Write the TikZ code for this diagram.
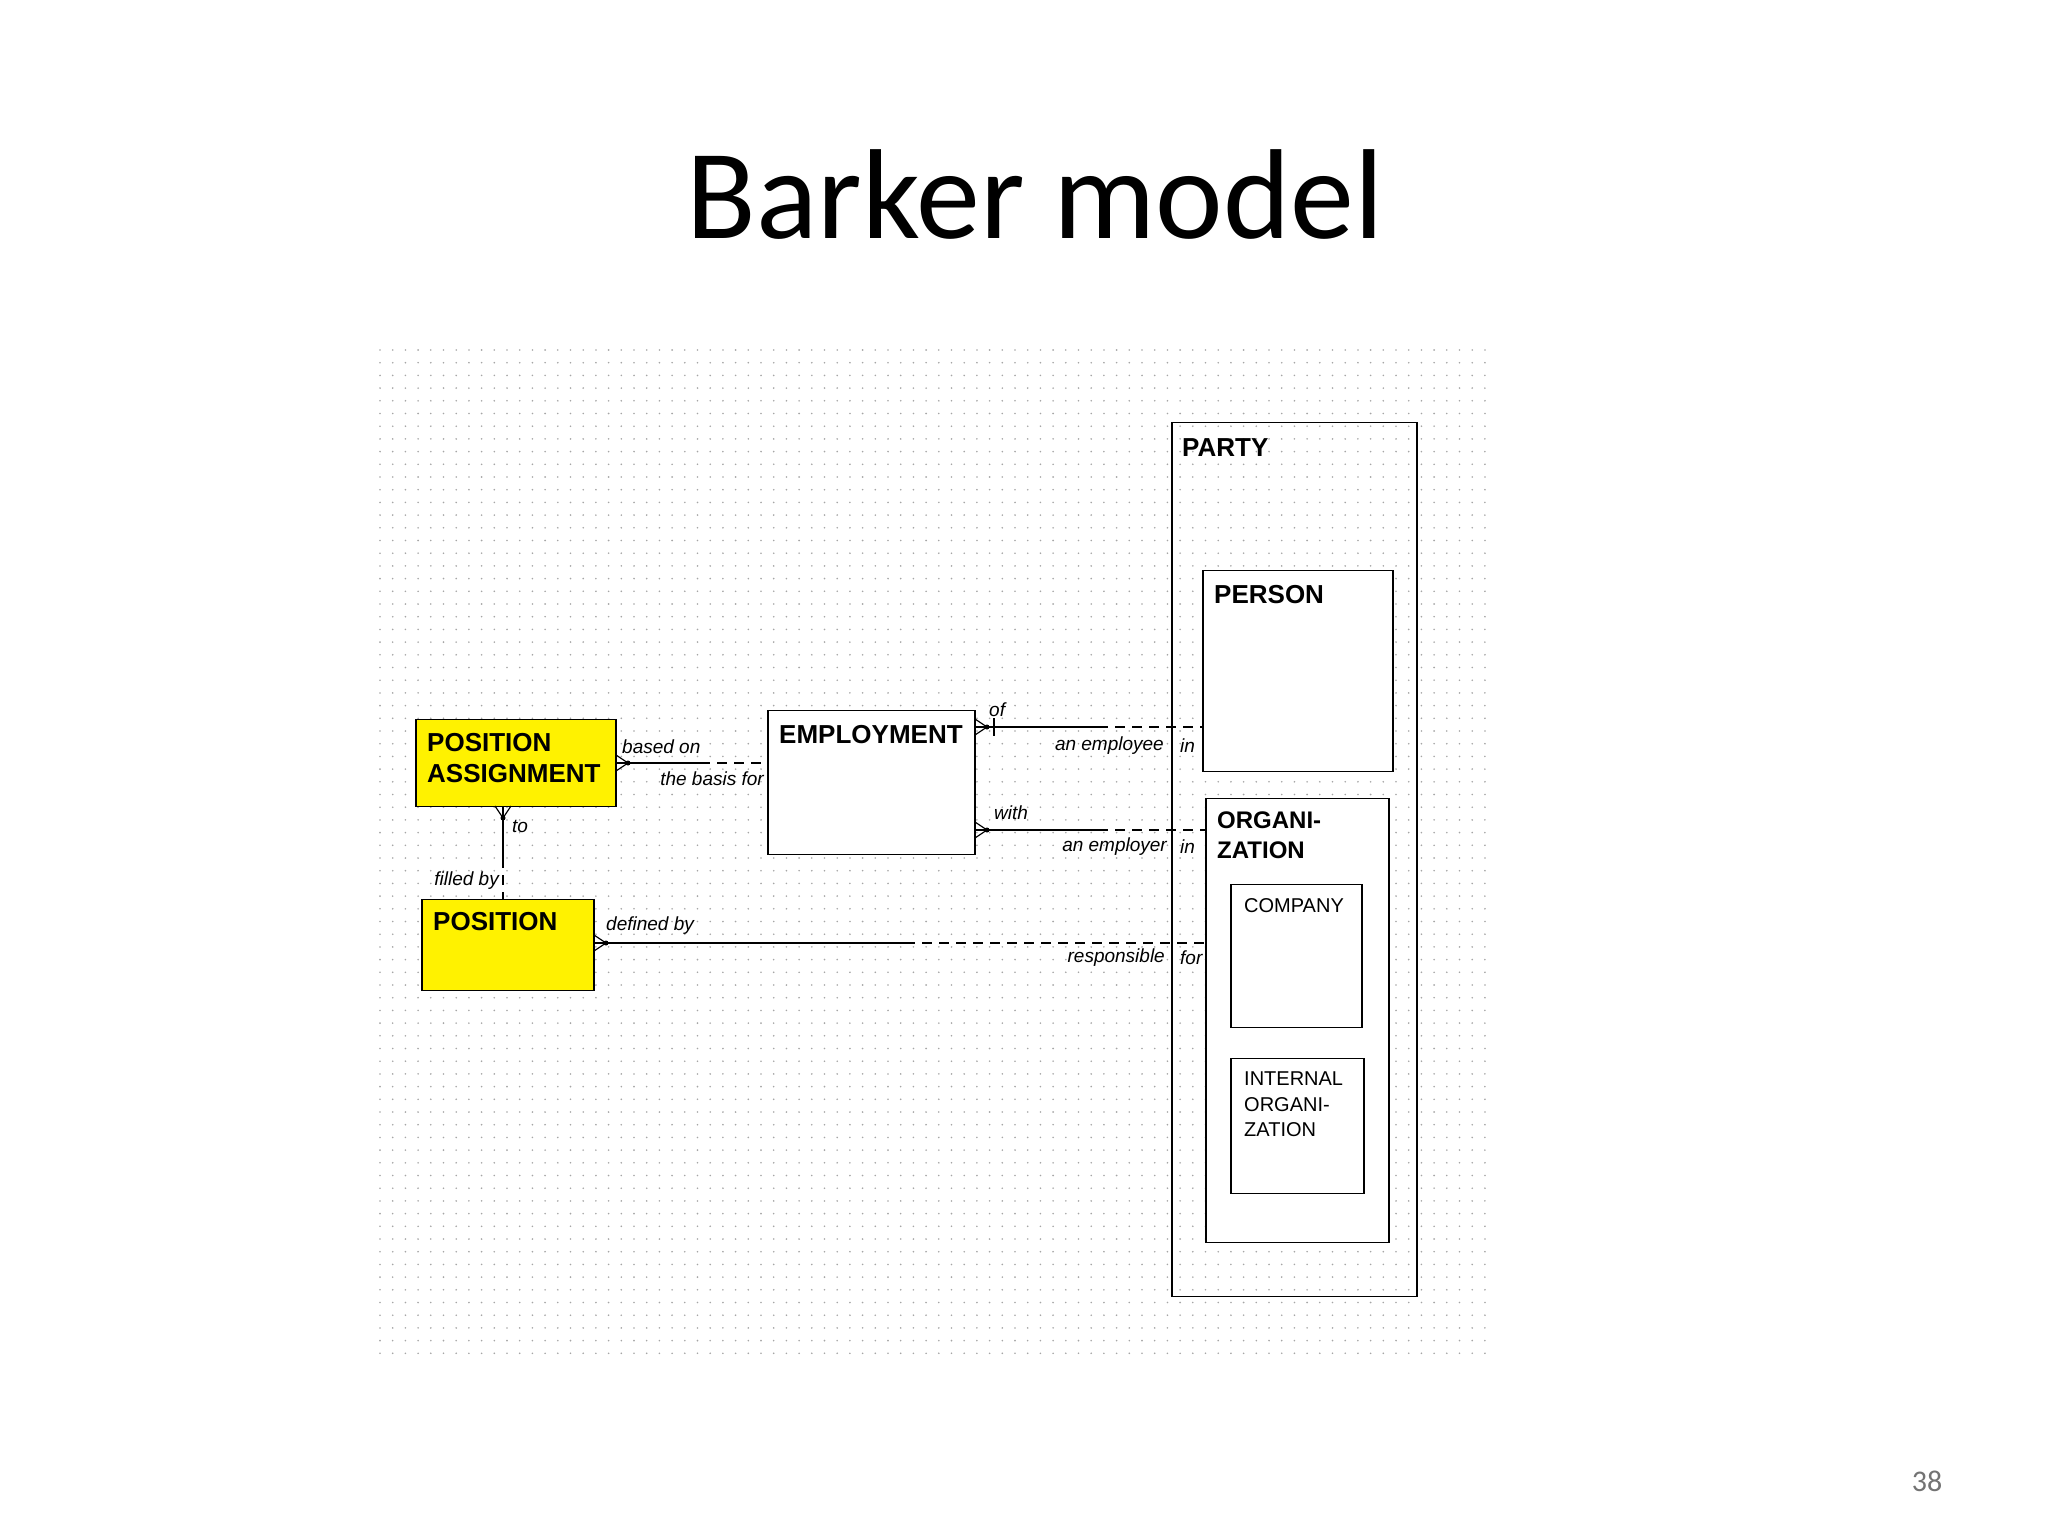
\documentclass[tikz,border=0pt]{standalone}
\usepackage{fontspec}
\setmainfont{Liberation Sans}
\newfontfamily\ttl{Carlito}
\usetikzlibrary{shapes.misc}
\begin{document}
\begin{tikzpicture}[x=1pt,y=-1pt,
  ent/.style={draw=black,line width=1.6pt,chamfered rectangle,chamfered rectangle xsep=0pt,chamfered rectangle ysep=0pt,chamfered rectangle corners={north west,north east,south west,south east},chamfered rectangle angle=45,inner sep=0pt,anchor=north west},
  lab/.style={font=\fontsize{26}{31}\selectfont\bfseries,anchor=north west,inner sep=0pt,align=left},
  rl/.style={font=\fontsize{19}{22}\selectfont\itshape,inner sep=0pt},
  ln/.style={line width=1.6pt},
  dl/.style={line width=1.6pt,dash pattern=on 10pt off 7pt}]
\useasboundingbox (0,0) rectangle (2048,1536);
\fill[white] (0,0) rectangle (2048,1536);
% dotted grid
\foreach \i in {0,...,87}{\foreach \j in {0,...,79}{
  \fill[black!35] (380+\i*12.7,350+\j*12.7) circle (0.9);}}
\node[font=\ttl\fontsize{128}{140}\selectfont] (title) at (1035,195) {Barker model};
\node[font=\ttl\fontsize{30}{34}\selectfont,text=black!55] (pg) at (1927,1481) {38};
% entities
\newcommand{\ebox}[6]{\node[ent,fill=#6,minimum width=#3-#1,minimum height=#4-#2] (#5) at (#1,#2) {};}
\tikzset{chamfered rectangle xsep=0pt}
\node[ent,minimum width=245,minimum height=874] (party) at (1172,422) {};
\node[ent,minimum width=190,minimum height=201,fill=white] (person) at (1203,570) {};
\node[ent,minimum width=183,minimum height=444,fill=white] (org) at (1206,798) {};
\node[ent,minimum width=131,minimum height=143,fill=white] (comp) at (1231,884) {};
\node[ent,minimum width=133,minimum height=135,fill=white] (int) at (1231,1058) {};
\node[ent,minimum width=207,minimum height=144,fill=white] (emp) at (768,710) {};
\node[ent,minimum width=200,minimum height=87,fill=yellow] (pa) at (416,719) {};
\node[ent,minimum width=172,minimum height=91,fill=yellow] (pos) at (422,899) {};
\node[lab] (tparty) at (1182,438) {PARTY};
\node[lab] (tperson) at (1214,585) {PERSON};
\node[lab,font=\fontsize{24}{30}\selectfont\bfseries] (torg) at (1217,812) {ORGANI-\\ZATION};
\node[lab,font=\fontsize{20}{25}\selectfont] (tcomp) at (1244,898) {COMPANY};
\node[lab,font=\fontsize{20}{25.5}\selectfont] (tint) at (1244,1072) {INTERNAL\\ORGANI-\\ZATION};
\node[lab] (temp) at (779,725) {EMPLOYMENT};
\node[lab] (tpa) at (427,733) {POSITION\\ASSIGNMENT};
\node[lab] (tpos) at (433,912) {POSITION};
% coordinates
\coordinate (a1) at (616,763); \coordinate (a2) at (700,763); \coordinate (a3) at (768,763);
\coordinate (b1) at (975,727); \coordinate (b2) at (1098,727); \coordinate (b3) at (1203,727);
\coordinate (c1) at (975,830); \coordinate (c2) at (1098,830); \coordinate (c3) at (1206,830);
\coordinate (d1) at (594,943); \coordinate (d2) at (905,943); \coordinate (d3) at (1206,943);
\coordinate (e1) at (503,806); \coordinate (e2) at (503,858); \coordinate (e3) at (503,899);
\draw[ln] (a1)--(a2); \draw[dl] (a2)--(a3);
\draw[ln] (b1)--(b2); \draw[dl] (b2)--(b3);
\draw[ln] (c1)--(c2); \draw[dl] (c2)--(c3);
\draw[ln] (d1)--(d2); \draw[dl] (d2)--(d3);
\draw[ln] (e1)--(e2); \draw[dl] (e2)--(e3);
% crow's feet
\foreach \x/\y in {616/763,975/727,975/830,594/943}{
  \draw[line width=1.2pt] (\x,\y-8)--(\x+12,\y)--(\x,\y+8);
  \fill (\x+12,\y) circle (2.5);}
\draw[line width=1.2pt] (495,806)--(503,818)--(511,806);
\fill (503,818) circle (2.5);
\draw[line width=1.4pt] (994,718)--(994,736);
% labels
\node[rl,anchor=west] (l1) at (622,747) {based on};
\node[rl,anchor=east] (l2) at (764,779) {the basis for};
\node[rl,anchor=west] (l3) at (989,710) {of};
\node[rl,anchor=east] (l4) at (1164,746) {an employee};
\node[rl,anchor=west] (l5) at (1180,746) {in};
\node[rl,anchor=west] (l6) at (994,813) {with};
\node[rl,anchor=east] (l7) at (1167,847) {an employer};
\node[rl,anchor=west] (l8) at (1180,847) {in};
\node[rl,anchor=west] (l9) at (606,926) {defined by};
\node[rl,anchor=east] (l10) at (1165,958) {responsible};
\node[rl,anchor=west] (l11) at (1180,958) {for};
\node[rl,anchor=west] (l12) at (512,826) {to};
\node[rl,anchor=east] (l13) at (499,881) {filled by};
\end{tikzpicture}
\end{document}
